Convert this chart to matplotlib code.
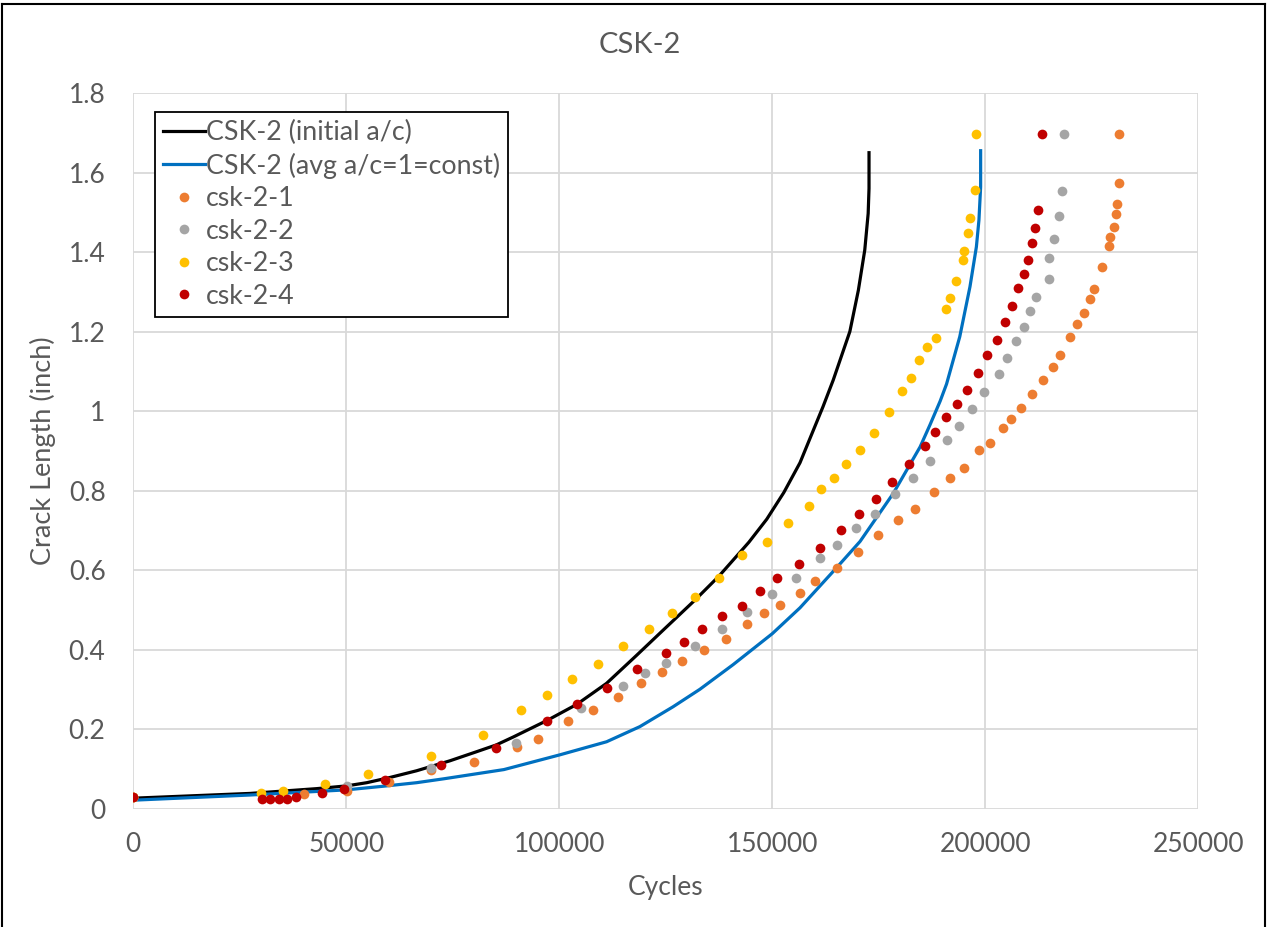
import matplotlib
matplotlib.use("Agg")
import matplotlib.pyplot as plt
from matplotlib.lines import Line2D
from matplotlib.ticker import FuncFormatter, MultipleLocator

plt.rcParams.update({"font.family": ["Lato", "DejaVu Sans"], "font.size": 19})

TXT = "#595959"
GRID = "#d9d9d9"

# CSK-2 (initial a/c) model curve
init_x = [0, 27400, 35200, 43000, 50100, 54800, 60200, 66500, 74300, 80600, 85200, 89200,
          97200, 104100, 111100, 118100, 124000, 131900, 137500, 140800, 144500, 148700,
          152700, 156500, 161900, 164300, 165900, 168200, 170200, 171700, 172500, 172700, 172700]
init_y = [0.026, 0.038, 0.044, 0.050, 0.057, 0.065, 0.078, 0.095, 0.120, 0.143, 0.160, 0.180,
          0.222, 0.262, 0.315, 0.385, 0.445, 0.525, 0.585, 0.625, 0.670, 0.728,
          0.795, 0.870, 1.011, 1.078, 1.128, 1.200, 1.304, 1.405, 1.497, 1.560, 1.650]

# CSK-2 (avg a/c=1=const) model curve
avg_x = [0, 27400, 50100, 58600, 66500, 73000, 87000, 100100, 111100, 118900, 126700, 133000,
         140800, 150000, 156500, 165100, 170600, 178400, 184700, 187000, 189400, 190900,
         194000, 196400, 197900, 198500, 198900, 198900]
avg_y = [0.021, 0.034, 0.047, 0.056, 0.065, 0.075, 0.098, 0.135, 0.168, 0.206, 0.256, 0.300,
         0.362, 0.440, 0.505, 0.606, 0.672, 0.793, 0.910, 0.965, 1.025, 1.068,
         1.187, 1.313, 1.413, 1.480, 1.564, 1.655]

# test data
t1_x = [0, 40100, 50100, 60100, 69900, 80000, 90000, 94900, 102100, 108000, 113800, 119100,
        124100, 128900, 133900, 139200, 144000, 148000, 151900, 156500, 160100, 165100,
        170000, 174900, 179500, 183500, 188000, 191700, 195000, 198500, 201100, 204100,
        206100, 208400, 211000, 213600, 215900, 217600, 219900, 221500, 223100, 224500,
        225500, 227400, 229000, 229300, 230100, 230700, 231000, 231300, 231300]
t1_y = [0.029, 0.036, 0.045, 0.067, 0.096, 0.118, 0.155, 0.174, 0.220, 0.248, 0.280, 0.315,
        0.343, 0.371, 0.399, 0.427, 0.463, 0.491, 0.512, 0.543, 0.572, 0.606,
        0.645, 0.688, 0.726, 0.754, 0.797, 0.831, 0.856, 0.901, 0.920, 0.958,
        0.979, 1.008, 1.042, 1.078, 1.110, 1.140, 1.186, 1.218, 1.247, 1.282,
        1.306, 1.363, 1.415, 1.437, 1.462, 1.496, 1.521, 1.574, 1.697]

t2_x = [0, 50100, 69900, 89800, 105000, 114900, 120100, 125000, 131800, 138100, 144100, 150000,
        155500, 161100, 165100, 169600, 174000, 178900, 183100, 187100, 191000, 193900,
        196900, 199800, 203200, 205100, 207100, 209000, 210400, 212000, 215000, 215000,
        216200, 217300, 217900, 218500]
t2_y = [0.029, 0.057, 0.101, 0.164, 0.252, 0.308, 0.340, 0.365, 0.410, 0.452, 0.494, 0.540,
        0.579, 0.631, 0.663, 0.706, 0.740, 0.792, 0.831, 0.874, 0.926, 0.962,
        1.005, 1.047, 1.092, 1.134, 1.177, 1.211, 1.251, 1.286, 1.333, 1.385,
        1.434, 1.490, 1.553, 1.697]

t3_x = [0, 29900, 35200, 45000, 55200, 69900, 82000, 90900, 97100, 103000, 109000, 114900,
        121100, 126400, 131900, 137500, 143000, 148700, 153600, 158500, 161500, 164400,
        167300, 170600, 173800, 177500, 180500, 182500, 184500, 186400, 188400, 190700,
        191700, 193100, 194700, 195000, 196000, 196500, 197500, 197900]
t3_y = [0.029, 0.038, 0.045, 0.061, 0.086, 0.132, 0.185, 0.249, 0.286, 0.326, 0.364, 0.410,
        0.452, 0.491, 0.533, 0.579, 0.638, 0.670, 0.719, 0.761, 0.804, 0.831,
        0.867, 0.902, 0.945, 0.997, 1.050, 1.084, 1.128, 1.162, 1.183, 1.257,
        1.285, 1.327, 1.380, 1.403, 1.447, 1.486, 1.557, 1.697]

t4_x = [0, 30100, 32200, 34300, 36100, 38200, 44400, 49500, 59100, 72200, 85200, 97100,
        104100, 111200, 118200, 125100, 129300, 133500, 138200, 142800, 147100, 151200,
        156200, 161200, 166100, 170400, 174300, 178200, 182100, 185800, 188200, 190700,
        193300, 195700, 198200, 200400, 202800, 204700, 206200, 207700, 209000, 210100,
        211000, 211600, 212300, 213300]
t4_y = [0.028, 0.025, 0.025, 0.025, 0.025, 0.030, 0.040, 0.050, 0.071, 0.110, 0.153, 0.219,
        0.262, 0.304, 0.350, 0.392, 0.420, 0.452, 0.484, 0.509, 0.547, 0.579,
        0.614, 0.655, 0.701, 0.740, 0.779, 0.821, 0.867, 0.912, 0.947, 0.984,
        1.018, 1.053, 1.095, 1.141, 1.180, 1.223, 1.265, 1.310, 1.345, 1.381,
        1.423, 1.461, 1.507, 1.697]

tests = [("csk-2-1", t1_x, t1_y, "#ED7D31"),
         ("csk-2-2", t2_x, t2_y, "#A5A5A5"),
         ("csk-2-3", t3_x, t3_y, "#FFC000"),
         ("csk-2-4", t4_x, t4_y, "#C00000")]

fig = plt.figure(figsize=(12.67, 9.27), dpi=100)
ax = fig.add_axes([0.1052, 0.1278, 0.8406, 0.7718])

ax.plot(init_x, init_y, color="black", lw=2.3, label="CSK-2 (initial a/c)", zorder=3)
ax.plot(avg_x, avg_y, color="#0070C0", lw=2.3, label="CSK-2 (avg a/c=1=const)", zorder=3)
for name, xs, ys, c in tests:
    ax.plot(xs, ys, "o", ls="none", ms=7, mew=0, color=c, label=name, zorder=4)

ax.set_xlim(0, 250000)
ax.set_ylim(0, 1.8)
ax.xaxis.set_major_locator(MultipleLocator(50000))
ax.yaxis.set_major_locator(MultipleLocator(0.2))
ax.yaxis.set_major_formatter(FuncFormatter(lambda v, p: f"{round(v, 1):g}"))
ax.xaxis.set_major_formatter(FuncFormatter(lambda v, p: f"{int(round(v))}"))
ax.grid(True, color=GRID, lw=1.3, zorder=0)
ax.set_axisbelow(True)
for s in ax.spines.values():
    s.set_visible(False)
ax.tick_params(length=0, labelsize=19, colors=TXT)
ax.tick_params(axis="y", pad=20)
ax.tick_params(axis="x", pad=17)

ax.set_xlabel("Cycles", fontsize=19, color=TXT, labelpad=13)
ax.set_ylabel("Crack Length (inch)", fontsize=19.5, color=TXT, labelpad=9)
fig.text(0.505, 1 - 45 / 927, "CSK-2", fontsize=21, color=TXT, ha="center", va="center")

leg = ax.legend(loc="upper left", bbox_to_anchor=(0.0207, 0.9734), borderaxespad=0,
                fontsize=19.3, handlelength=1.55, handletextpad=0.05, labelspacing=0.28,
                borderpad=0.3, fancybox=False, framealpha=1, edgecolor="black",
                labelcolor=TXT)
leg.get_frame().set_linewidth(1.3)

# outer chart border (left, top, right)
for xs, ys in [([0.0015, 0.0015], [0.0, 0.9957]), ([0.0015, 0.9985], [0.9957, 0.9957]),
               ([0.9985, 0.9985], [0.9957, 0.0])]:
    fig.add_artist(Line2D(xs, ys, transform=fig.transFigure, color="black", lw=1.5))

fig.savefig("out.png", dpi=100)
